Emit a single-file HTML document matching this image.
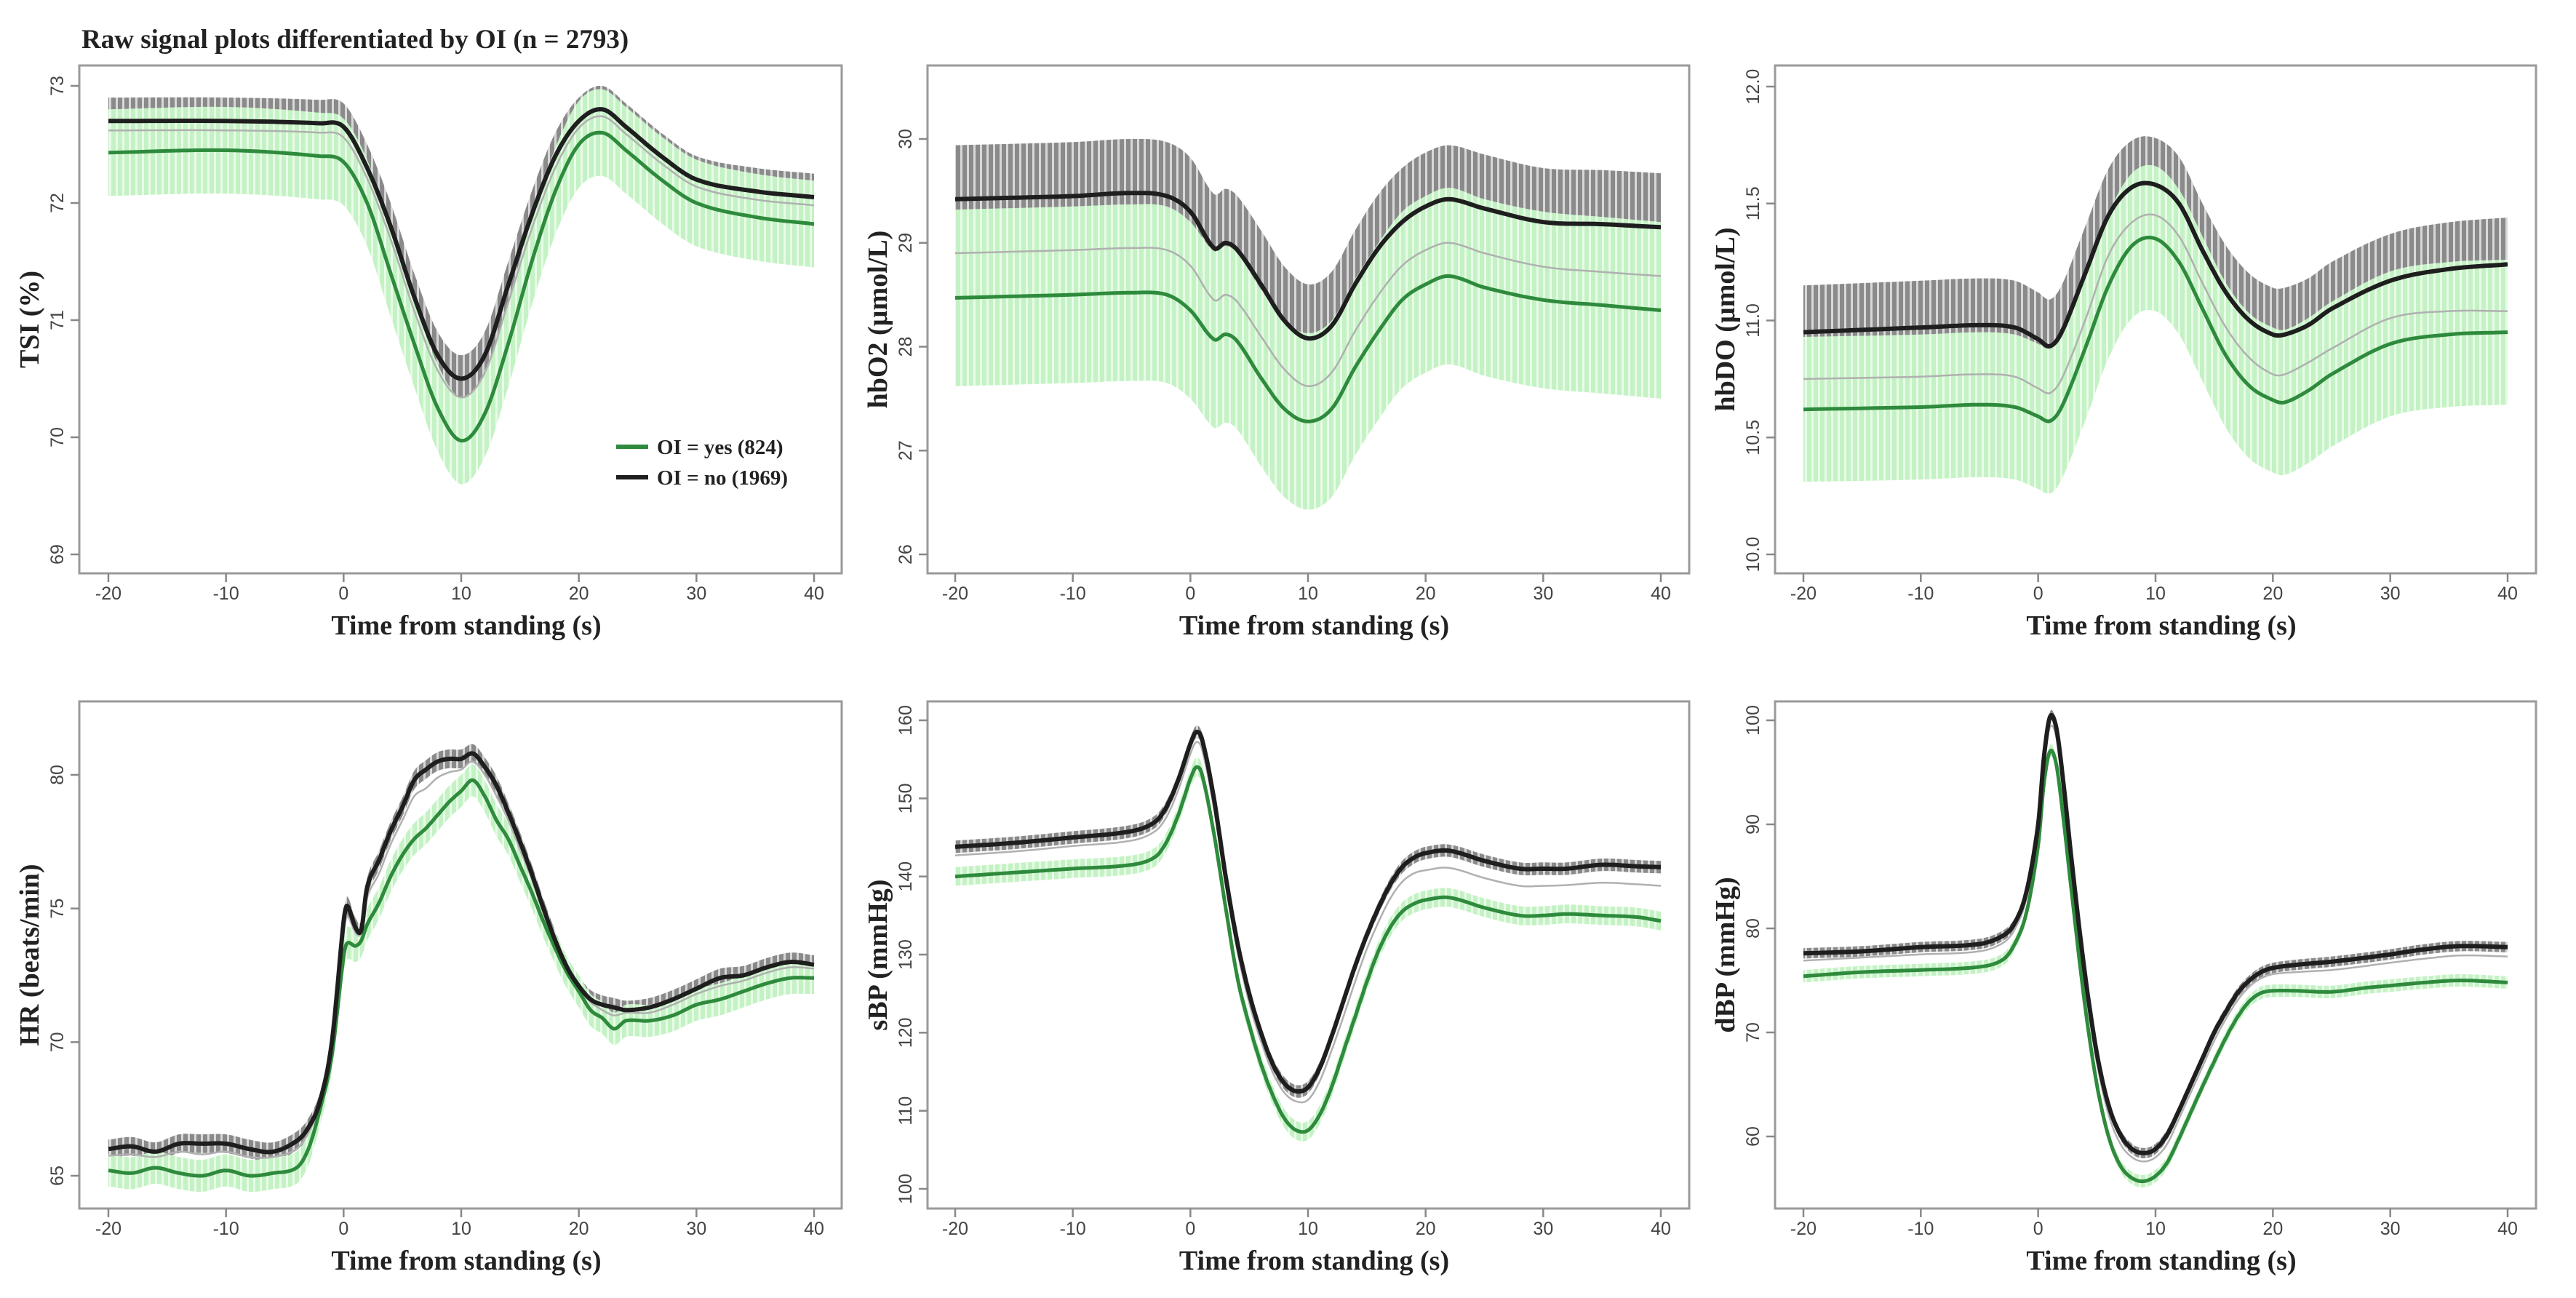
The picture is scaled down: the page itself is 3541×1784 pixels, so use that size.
<!DOCTYPE html>
<html><head><meta charset="utf-8"><style>
html,body{margin:0;padding:0;background:#fff;}
svg{display:block;}
.tick{font-family:"Liberation Sans",sans-serif;font-size:25px;fill:#444;}
.ttl{font-family:"Liberation Serif",serif;font-weight:bold;font-size:38px;fill:#222;}
</style></head><body>
<svg id="fig" width="3541" height="1784" viewBox="0 0 3541 1784" xmlns="http://www.w3.org/2000/svg">
<defs>
<pattern id="pg" width="9" height="10" patternUnits="userSpaceOnUse"><rect width="9" height="10" fill="#c4f2c4"/><rect x="6" width="3" height="10" fill="#e8fbe8"/></pattern>
<pattern id="pk" width="9" height="10" patternUnits="userSpaceOnUse"><rect width="9" height="10" fill="#8a8a8a"/><rect x="6" width="3" height="10" fill="#d8d8d8"/></pattern>
</defs>
<text x="112" y="66" font-family="Liberation Serif, serif" font-weight="bold" font-size="37" fill="#222">Raw signal plots differentiated by OI (n = 2793)</text>
</svg>
<script>
// ---- TSI ----
const tsiT=[-20,-10,-2,0,2,4,6,8,10,12,14,16,18,20,22,24,27,30,35,40];
const tsiNo=[72.7,72.7,72.68,72.65,72.3,71.8,71.2,70.7,70.5,70.7,71.3,71.9,72.4,72.7,72.8,72.65,72.4,72.2,72.1,72.05];
const tsiYes=[72.43,72.45,72.4,72.35,72.0,71.4,70.8,70.25,69.97,70.2,70.8,71.5,72.1,72.5,72.6,72.45,72.2,72.0,71.88,71.82];
const tsiAll=[72.62,72.62,72.6,72.56,72.21,71.69,71.08,70.57,70.34,70.55,71.15,71.78,72.3,72.64,72.74,72.59,72.34,72.14,72.03,71.98];
const tsiBand=[0.2,0.37];
const tsiTicks=[69,70,71,72,73];
// ---- hbO2 ----
const hboT=[-20,-10,-5,-2,0,2,3,4,6,8,10,12,14,16,18,20,22,25,30,35,40];
const hboNo=[29.42,29.45,29.48,29.45,29.3,28.95,29.0,28.93,28.6,28.25,28.08,28.2,28.6,28.95,29.2,29.35,29.42,29.33,29.2,29.18,29.15];
const hboYes=[28.47,28.5,28.52,28.5,28.35,28.07,28.12,28.05,27.7,27.4,27.28,27.4,27.8,28.15,28.45,28.6,28.68,28.57,28.45,28.4,28.35];
const hboAll=[28.9,28.93,28.95,28.93,28.78,28.45,28.5,28.43,28.1,27.78,27.62,27.75,28.15,28.5,28.78,28.93,29.0,28.9,28.77,28.72,28.68];
const hboBand=[0.52,0.85];
const hboTicks=[26,27,28,29,30];
// ---- hbDO ----
const hbdT=[-20,-10,-5,-2,0,1,2,4,6,8,10,12,14,16,18,20,21,23,25,30,35,40];
const hbdNo=[10.95,10.97,10.98,10.97,10.92,10.89,10.95,11.2,11.45,11.57,11.58,11.5,11.3,11.12,11.0,10.94,10.94,10.98,11.05,11.17,11.22,11.24];
const hbdYes=[10.62,10.63,10.64,10.63,10.59,10.57,10.63,10.88,11.15,11.32,11.35,11.25,11.05,10.85,10.72,10.66,10.65,10.7,10.77,10.9,10.94,10.95];
const hbdAll=[10.75,10.76,10.77,10.76,10.71,10.69,10.75,11.0,11.28,11.42,11.45,11.36,11.16,10.97,10.84,10.77,10.77,10.82,10.88,11.01,11.04,11.04];
const hbdBand=[0.2,0.31];
const hbdTicks=[10,10.5,11,11.5,12];
// ---- HR ----
const hrT=[-20,-18,-16,-14,-12,-10,-8,-6,-4,-3,-2,-1,0,0.3,1,1.5,2,3,4,5,6,7,8,9,10,11,12,13,14,15,16,17,18,19,20,21,22,23,24,26,28,30,32,34,36,38,40];
const hrNo=[66.0,66.1,65.9,66.2,66.2,66.2,66.0,65.9,66.3,66.8,67.8,70.0,74.5,75.1,74.3,74.2,75.8,76.8,77.9,78.8,79.8,80.2,80.5,80.6,80.6,80.8,80.3,79.6,78.6,77.5,76.3,75.0,73.8,72.8,72.1,71.6,71.4,71.3,71.2,71.3,71.6,72.0,72.4,72.5,72.8,73.0,72.9];
const hrYes=[65.2,65.1,65.3,65.1,65.0,65.2,65.0,65.1,65.3,66.0,67.5,69.5,73.2,73.7,73.6,73.8,74.4,75.2,76.2,77.0,77.6,78.0,78.5,79.0,79.4,79.8,79.2,78.3,77.6,76.6,75.6,74.5,73.5,72.6,71.9,71.2,70.9,70.5,70.8,70.8,71.0,71.4,71.6,71.9,72.2,72.4,72.4];
const hrAll=[65.75,65.8,65.7,65.9,65.8,65.9,65.7,65.7,66.0,66.6,67.7,69.9,74.1,74.7,74.1,74.1,75.4,76.3,77.4,78.3,79.2,79.5,79.9,80.1,80.2,80.5,80.0,79.2,78.3,77.2,76.1,74.8,73.7,72.7,72.0,71.5,71.2,71.0,71.1,71.1,71.4,71.8,72.1,72.3,72.6,72.8,72.75];
const hrBand=[0.35,0.6];
const hrTicks=[65,70,75,80];
// ---- sBP ----
const sbpT=[-20,-15,-10,-5,-3,-2,-1,0,0.5,1,2,3,4,5,6,7,8,9,10,11,12,13,14,15,16,17,18,19,20,22,25,28,30,32,35,38,40];
const sbpNo=[143.8,144.3,145.0,145.8,147.0,149.0,152.5,157.0,158.5,157.5,150.0,140.0,131.5,125.0,120.0,116.0,113.5,112.5,113.0,115.5,119.5,124.0,128.5,132.5,136.0,139.0,141.2,142.4,143.0,143.3,142.0,141.0,141.0,141.0,141.5,141.3,141.2];
const sbpYes=[140.0,140.5,141.0,141.5,142.5,144.5,148.0,152.5,154.0,153.0,145.5,136.0,127.0,121.0,116.0,112.0,109.0,107.5,107.5,109.5,113.0,117.5,122.0,126.5,130.5,133.5,135.5,136.5,137.0,137.3,136.0,135.0,135.0,135.2,135.0,134.8,134.3];
const sbpAll=[142.7,143.2,143.9,144.6,145.8,147.7,151.2,155.7,157.2,156.2,148.7,138.9,130.4,123.8,118.9,114.9,112.3,111.2,111.4,113.8,117.7,122.0,126.5,130.7,134.2,137.2,139.3,140.4,140.8,141.1,139.8,138.8,138.8,138.9,139.2,139.0,138.8];
const sbpBand=[0.8,1.2];
const sbpTicks=[100,110,120,130,140,150,160];
// ---- dBP ----
const dbpT=[-20,-15,-10,-5,-3,-2,-1,0,0.5,1,1.5,2,3,4,5,6,7,8,9,10,11,12,13,14,15,16,17,18,19,20,22,25,28,30,33,36,40];
const dbpNo=[77.6,77.8,78.2,78.5,79.3,80.5,83.5,90.0,96.5,100.3,99.5,95.5,85.0,75.5,68.0,63.0,60.2,58.8,58.4,58.8,60.2,62.5,65.0,67.5,70.0,72.0,73.8,75.0,75.8,76.2,76.5,76.8,77.2,77.5,78.0,78.3,78.2];
const dbpYes=[75.4,75.8,76.0,76.3,77.0,78.5,81.5,88.0,94.0,97.0,96.0,92.0,82.0,72.5,65.0,60.0,57.2,56.0,55.7,56.2,57.5,59.8,62.3,64.8,67.2,69.5,71.5,73.0,73.8,74.0,74.0,73.9,74.3,74.5,74.8,75.0,74.8];
const dbpAll=[76.9,77.2,77.5,77.8,78.6,79.9,82.9,89.4,95.7,99.3,98.6,94.6,84.1,74.6,67.1,62.1,59.3,58.0,57.6,58.0,59.3,61.7,64.2,66.7,69.2,71.3,73.1,74.4,75.2,75.6,75.8,76.0,76.4,76.7,77.1,77.4,77.3];
const dbpBand=[0.5,0.6];
const dbpTicks=[60,70,80,90,100];
const xTicks=[-20,-10,0,10,20,30,40];

const NS='http://www.w3.org/2000/svg';
const svg=document.getElementById('fig');
function mk(tag,attrs,parent){const e=document.createElementNS(NS,tag);for(const k in attrs)e.setAttribute(k,attrs[k]);(parent||svg).appendChild(e);return e;}
function spline(T,V){const out=[];for(let i=0;i<T.length-1;i++){const t0=T[Math.max(i-1,0)],t1=T[i],t2=T[i+1],t3=T[Math.min(i+2,T.length-1)];const v0=V[Math.max(i-1,0)],v1=V[i],v2=V[i+1],v3=V[Math.min(i+2,V.length-1)];const m1=(v2-v0)/((t2-t0)||1)*(t2-t1),m2=(v3-v1)/((t3-t1)||1)*(t2-t1);const n=8;for(let k=0;k<n;k++){const s=k/n,h00=2*s*s*s-3*s*s+1,h10=s*s*s-2*s*s+s,h01=-2*s*s*s+3*s*s,h11=s*s*s-s*s;out.push([t1+(t2-t1)*s,h00*v1+h10*m1+h01*v2+h11*m2]);}}out.push([T[T.length-1],V[V.length-1]]);return out;}

function panel(p){
  const g=mk('g',{});
  
  
  const xs=t=>p.xa+(t+20)/60*(p.xb-p.xa);
  const ys=v=>p.ya+(v-p.va)/(p.vb-p.va)*(p.yb-p.ya);
  const pts=(arr)=>arr.map(q=>xs(q[0]).toFixed(1)+','+ys(q[1]).toFixed(1)).join(' ');
  function band(V,hw,fill,nm){const up=spline(p.T,V.map(v=>v+hw)),lo=spline(p.T,V.map(v=>v-hw)).reverse();const e=mk('polygon',{points:pts(up.concat(lo)),fill:fill},g);}
  band(p.no,p.band[0],'url(#pk)',p.name+'-band-no');
  band(p.yes,p.band[1],'url(#pg)',p.name+'-band-yes');
  function line(V,col,w,nm){const e=mk('polyline',{points:pts(spline(p.T,V)),fill:'none',stroke:col,'stroke-width':w,'stroke-linejoin':'round'},g);}
  line(p.all,'#b0b0b0',2.5,p.name+'-line-overall');
  line(p.yes,'#2e8a3c',5,p.name+'-line-oi-yes');
  line(p.no,'#1e1e1e',6,p.name+'-line-oi-no');
  const box=mk('rect',{x:p.x0,y:p.y0,width:p.x1-p.x0,height:p.y1-p.y0,fill:'none',stroke:'#9a9a9a','stroke-width':3},g);
  
  
  xTicks.forEach(t=>{const x=xs(t);mk('line',{x1:x,x2:x,y1:p.y1,y2:p.y1+12,stroke:'#888','stroke-width':2.5},g);const tx=mk('text',{x:x,y:p.y1+36,'text-anchor':'middle',class:'tick'},g);tx.textContent=t;});
  p.ticks.forEach(v=>{const y=ys(v);mk('line',{x1:p.x0,x2:p.x0-12,y1:y,y2:y,stroke:'#888','stroke-width':2.5},g);const tx=mk('text',{x:p.x0-22,y:y,'text-anchor':'middle',class:'tick',transform:'rotate(-90 '+(p.x0-22)+' '+y+')'},g);tx.textContent=p.fmt?v.toFixed(1):v;});
  const xt=mk('text',{x:(p.x0+p.x1)/2+8,y:p.y1+84,'text-anchor':'middle',class:'ttl'},g);xt.textContent='Time from standing (s)';
  
  
  const cy=(p.y0+p.y1)/2;
  const yt=mk('text',{x:p.x0-56,y:cy,'text-anchor':'middle',class:'ttl',transform:'rotate(-90 '+(p.x0-56)+' '+cy+')'},g);yt.textContent=p.label;
  
  
}
const C1={x0:109,x1:1157,xa:149,xb:1119},C2={x0:1275,x1:2322,xa:1313,xb:2283},C3={x0:2440,x1:3486,xa:2479,xb:3447};
const R1={y0:90,y1:788},R2={y0:964,y1:1661};
panel(Object.assign({name:'tsi',label:'TSI (%)',T:tsiT,no:tsiNo,yes:tsiYes,all:tsiAll,band:tsiBand,ticks:tsiTicks,ya:118,va:73,yb:762,vb:69},C1,R1));
panel(Object.assign({name:'hbo2',label:'hbO2 (µmol/L)',T:hboT,no:hboNo,yes:hboYes,all:hboAll,band:hboBand,ticks:hboTicks,ya:191,va:30,yb:762,vb:26},C2,R1));
panel(Object.assign({name:'hbdo',label:'hbDO (µmol/L)',T:hbdT,no:hbdNo,yes:hbdYes,all:hbdAll,band:hbdBand,ticks:hbdTicks,fmt:1,ya:119,va:12,yb:762,vb:10},C3,R1));
panel(Object.assign({name:'hr',label:'HR (beats/min)',T:hrT,no:hrNo,yes:hrYes,all:hrAll,band:hrBand,ticks:hrTicks,ya:1065,va:80,yb:1616,vb:65},C1,R2));
panel(Object.assign({name:'sbp',label:'sBP (mmHg)',T:sbpT,no:sbpNo,yes:sbpYes,all:sbpAll,band:sbpBand,ticks:sbpTicks,ya:990,va:160,yb:1634,vb:100},C2,R2));
panel(Object.assign({name:'dbp',label:'dBP (mmHg)',T:dbpT,no:dbpNo,yes:dbpYes,all:dbpAll,band:dbpBand,ticks:dbpTicks,ya:990,va:100,yb:1562,vb:60},C3,R2));
// legend
const lg=mk('g',{});


[['OI = yes (824)','#2e8a3c',614],['OI = no (1969)','#1e1e1e',656]].forEach(r=>{
  const e=mk('g',{},lg);
  
  
  mk('line',{x1:847,x2:891,y1:r[2],y2:r[2],stroke:r[1],'stroke-width':6},e);
  const t=mk('text',{x:903,y:r[2]+10,'font-family':'Liberation Serif, serif','font-weight':'bold','font-size':29,fill:'#222'},e);t.textContent=r[0];
});
</script>
</body></html>
